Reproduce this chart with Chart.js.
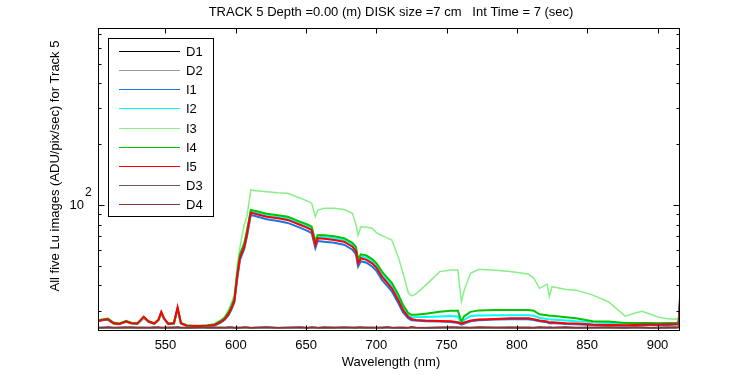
<!DOCTYPE html>
<html>
<head>
<meta charset="utf-8">
<script src="https://cdn.jsdelivr.net/npm/chart.js@4"></script>
<style>
  html, body { margin: 0; padding: 0; background: #fff; }
  canvas { display: block; }
</style>
</head>
<body>
<canvas id="chart" width="750" height="375"></canvas>
<script>
// wavelength grid (nm), shared by every trace
const wavelengths = [502, 505, 509, 513, 517, 522, 526, 530, 534.5, 538, 542, 545, 547, 549, 552, 556, 558.6, 561, 565, 570,
    575, 580, 585, 589, 592, 595, 597, 599, 601, 603, 606, 608, 610.7, 615, 622, 630, 637, 646, 651, 654,
    656.6, 658.3, 663, 670, 677, 683, 685.5, 687, 689, 693, 697, 700, 704, 708, 711, 715.5, 719, 722.6, 725, 728,
    735, 745, 753, 758, 760.5, 762.5, 767, 773, 785, 795, 808, 812, 816, 821.5, 823, 825, 835, 842, 854, 865,
    877, 884, 889, 895, 901, 907, 913, 915, 916];

const d1Values = [24.7, 24.8, 24.7, 24.7, 24.8, 24.7, 24.7, 24.8, 24.7, 24.7, 24.8, 24.7, 24.7, 24.8, 24.7, 24.7, 24.8, 24.7, 24.7, 24.8,
    24.7, 24.7, 24.8, 24.7, 24.7, 24.8, 24.7, 24.7, 24.8, 24.7, 24.7, 24.8, 24.7, 24.7, 24.8, 24.7, 24.7, 24.8, 24.7, 24.7,
    24.8, 24.7, 24.7, 24.8, 24.7, 24.7, 24.8, 24.7, 24.7, 24.8, 24.7, 24.7, 24.8, 24.7, 24.7, 24.8, 24.7, 24.7, 24.8, 24.7,
    24.7, 24.8, 24.7, 24.7, 24.8, 24.7, 24.7, 24.8, 24.7, 24.7, 24.8, 24.7, 24.7, 24.8, 24.7, 24.7, 24.8, 24.7, 24.7, 24.8,
    24.7, 24.7, 24.8, 24.7, 24.7, 24.8, 24.7, 24.8, 33];
const d2Values = [24.8, 24.7, 24.8, 24.8, 24.7, 24.8, 24.8, 24.7, 24.8, 24.8, 24.7, 24.8, 24.8, 24.7, 24.8, 24.8, 24.7, 24.8, 24.8, 24.7,
    24.8, 24.8, 24.7, 24.8, 24.8, 24.7, 24.8, 24.8, 24.7, 24.8, 24.8, 24.7, 24.8, 24.8, 24.7, 24.8, 24.8, 24.7, 24.8, 24.8,
    24.7, 24.8, 24.8, 24.7, 24.8, 24.8, 24.7, 24.8, 24.8, 24.7, 24.8, 24.8, 24.7, 24.8, 24.8, 24.7, 24.8, 24.8, 24.7, 24.8,
    24.8, 24.7, 24.8, 24.8, 24.7, 24.8, 24.8, 24.7, 24.8, 24.8, 24.7, 24.8, 24.8, 24.7, 24.8, 24.8, 24.7, 24.8, 24.8, 24.7,
    24.8, 24.8, 24.7, 24.8, 24.8, 24.7, 24.8, 24.8, 33];
const i1Values = [26.6, 26.9, 27.1, 25.9, 25.7, 26.4, 25.9, 25.8, 27.7, 26.4, 25.8, 26.9, 29.2, 27.3, 25.7, 25.9, 30.6, 25.9, 25.2, 25.1,
    25.1, 25.2, 25.3, 26.1, 27.0, 28.6, 30.5, 33, 43, 53.5, 60.5, 70, 89.5, 87.6, 85, 83.3, 81.5, 77, 74.5, 72.6,
    61.2, 66.3, 65.8, 65, 63.6, 60.1, 57, 49.6, 52.7, 51.8, 49.6, 47.3, 42.6, 39.6, 37.4, 32.8, 29.4, 27.5, 26.9, 26.8,
    26.6, 26.5, 26.4, 26.1, 25.6, 25.9, 26.6, 26.9, 27.1, 27.2, 27.2, 27.0, 26.6, 26.3, 26.0, 26.1, 25.8, 25.7, 25.5, 25.4,
    25.3, 25.4, 25.4, 25.5, 25.5, 25.5, 25.6, 25.6, 33];
const i2Values = [26.8, 27.0, 27.3, 26.1, 25.8, 26.6, 26.0, 25.9, 27.6, 26.5, 25.9, 27.0, 29.0, 27.3, 25.8, 26.0, 30.5, 26.0, 25.3, 25.2,
    25.2, 25.3, 25.5, 26.4, 27.3, 29.2, 31.3, 34, 45, 56, 63, 73, 92.5, 91.2, 88.7, 87.3, 85.7, 81, 78.4, 76.4,
    64.5, 69.6, 69.3, 68.5, 67, 63.5, 60.3, 52.5, 55.6, 54.8, 52.6, 50.2, 45.5, 42.3, 40, 35, 31, 28.6, 27.9, 27.8,
    27.9, 28.1, 28.2, 28.1, 25.9, 27, 28.2, 28.4, 28.5, 28.5, 28.5, 28.3, 27.6, 27.3, 27.1, 27.1, 26.8, 26.6, 26.4, 26.1,
    25.9, 25.9, 25.9, 25.9, 25.9, 25.9, 26.0, 26.0, 33];
const i3Values = [26.8, 27.1, 27.3, 26.1, 25.9, 26.6, 26.1, 26.0, 27.7, 26.6, 26.0, 27.0, 29.1, 27.4, 25.9, 26.1, 30.4, 26.1, 25.4, 25.3,
    25.3, 25.4, 25.8, 26.9, 28.0, 30.5, 33, 36, 50, 62, 80, 88, 118.7, 117.5, 116.3, 115, 114.3, 107.9, 104.5, 102,
    87.5, 94, 96.3, 96.3, 95, 91, 80, 71, 78, 77.5, 76.7, 73, 70.5, 68.5, 67.1, 55.5, 45.9, 37, 35.5, 36.2,
    40, 46.8, 47.7, 47.7, 33.2, 37.9, 45.9, 48.1, 47.5, 46.8, 45.5, 43.5, 38.7, 40.6, 35.2, 39.4, 38.2, 37.9, 35.8, 33.2,
    28.2, 29.2, 29.8, 28.8, 27.8, 27.4, 27.2, 27.5, 34.7];
const i4Values = [26.9, 27.1, 27.4, 26.2, 25.9, 26.7, 26.1, 26.0, 27.8, 26.6, 26.0, 27.1, 29.3, 27.4, 25.9, 26.1, 30.8, 26.1, 25.4, 25.3,
    25.3, 25.4, 25.7, 26.6, 27.6, 29.6, 31.8, 34.5, 46, 57, 64.5, 75, 94.5, 93, 90.5, 89, 87.5, 82.5, 80, 78,
    66, 71, 70.8, 70, 68.5, 65, 62, 54, 57, 56.2, 54, 51.5, 46.8, 43.5, 41.2, 36.2, 32, 29.3, 28.6, 28.6,
    29.0, 29.6, 30.0, 30.0, 26.4, 28.2, 29.6, 30.1, 30.2, 30.2, 30.2, 30.0, 28.8, 28.5, 28.3, 28.3, 27.8, 27.5, 26.6, 26.5,
    26.1, 26.1, 26.1, 26.1, 26.0, 26.1, 26.1, 26.2, 35];
const i5Values = [26.7, 27.0, 27.2, 26.0, 25.8, 26.5, 26.0, 25.9, 28.0, 26.5, 25.9, 27.0, 29.6, 27.5, 25.8, 26.0, 31.2, 26.0, 25.3, 25.2,
    25.2, 25.3, 25.5, 26.3, 27.2, 29.0, 31.0, 33.5, 44, 55, 62, 72, 91.6, 90, 87.5, 86, 84.3, 79.6, 77, 75,
    63.4, 68.4, 68, 67.1, 65.8, 62.2, 59, 51.4, 54.5, 53.5, 51.4, 49, 44.2, 41, 38.7, 33.9, 30.2, 28.0, 27.3, 27.0,
    26.8, 26.7, 26.6, 26.3, 25.9, 26.2, 26.8, 27.1, 27.3, 27.5, 27.5, 27.2, 26.8, 26.5, 26.2, 26.3, 26.0, 25.9, 25.6, 25.5,
    25.4, 25.5, 25.6, 25.6, 25.6, 25.7, 25.7, 25.8, 34];
const d3Values = [24.7, 24.8, 24.8, 24.7, 24.8, 24.9, 24.7, 24.8, 24.8, 24.7, 24.9, 24.8, 24.7, 24.8, 24.8, 24.9, 24.7, 24.8, 24.8, 24.7,
    24.8, 24.9, 24.7, 24.8, 24.8, 24.7, 24.9, 24.8, 24.7, 24.8, 24.8, 24.9, 24.7, 24.8, 24.8, 24.7, 24.8, 24.9, 24.7, 24.8,
    24.8, 24.7, 24.9, 24.8, 24.7, 24.8, 24.8, 24.9, 24.7, 24.8, 24.8, 24.7, 24.8, 24.9, 24.7, 24.8, 24.8, 24.7, 24.9, 24.8,
    24.7, 24.8, 24.8, 24.9, 24.7, 24.8, 24.8, 24.7, 24.8, 24.9, 24.7, 24.8, 24.8, 24.7, 24.9, 24.8, 24.7, 24.8, 24.8, 24.9,
    24.7, 24.8, 24.8, 24.7, 24.8, 24.9, 24.7, 24.8, 33.2];
const d4Values = [24.8, 24.7, 24.9, 24.8, 24.7, 24.8, 24.9, 24.7, 24.8, 24.8, 24.7, 24.9, 24.8, 24.7, 24.8, 24.7, 24.9, 24.8, 24.7, 24.8,
    24.9, 24.7, 24.8, 24.8, 24.7, 24.9, 24.8, 24.7, 24.8, 24.7, 24.9, 24.8, 24.7, 24.8, 24.9, 24.7, 24.8, 24.8, 24.7, 24.9,
    24.8, 24.7, 24.8, 24.7, 24.9, 24.8, 24.7, 24.8, 24.9, 24.7, 24.8, 24.8, 24.7, 24.9, 24.8, 24.7, 24.8, 24.7, 24.9, 24.8,
    24.7, 24.8, 24.9, 24.7, 24.8, 24.8, 24.7, 24.9, 24.8, 24.7, 24.8, 24.7, 24.9, 24.8, 24.7, 24.8, 24.9, 24.7, 24.8, 24.8,
    24.7, 24.9, 24.8, 24.7, 24.8, 24.7, 24.9, 24.8, 33.2];

const seriesLabels = ['D1', 'D2', 'I1', 'I2', 'I3', 'I4', 'I5', 'D3', 'D4'];
const seriesValues = [d1Values, d2Values, i1Values, i2Values, i3Values, i4Values, i5Values, d3Values, d4Values];
const seriesColors = ['#000000', '#9a9a9a', '#1a73e0', '#00ffff', '#88f088', '#00c400', '#ff0000', '#7f5555', '#883535'];
const seriesWidths = [1.5, 1.5, 2, 2, 1.5, 2, 2, 1.5, 1.5];

const xTicks = [550, 600, 650, 700, 750, 800, 850, 900];
const yMajorTicks = [100];
const yMinorTicks = [30, 40, 50, 60, 70, 80, 90, 200, 300, 400, 500, 600, 700];

const chartTitle = 'TRACK 5 Depth =0.00 (m) DISK size =7 cm   Int Time = 7 (sec)';
const xTitle = 'Wavelength (nm)';
const yTitle = 'All five Lu images (ADU/pix/sec) for Track 5';

const FONT = '13px "Liberation Sans", Arial, sans-serif';

const datasets = seriesLabels.map((label, k) => ({
    label: label,
    data: wavelengths.map((w, i) => ({ x: w, y: seriesValues[k][i] })),
    borderColor: seriesColors[k],
    backgroundColor: seriesColors[k],
    borderWidth: seriesWidths[k],
    pointRadius: 0,
    tension: 0,
    fill: false,
    order: seriesLabels.length - k // later series drawn on top
}));

// frame, ticks, labels, titles and legend in the old plot style
const framePlugin = {
    id: 'frame',
    afterDraw(chart) {
        const ctx = chart.ctx;
        const area = chart.chartArea;
        const xs = chart.scales.x;
        const ys = chart.scales.y;
        const L = Math.round(area.left) + 0.5;
        const R = Math.round(area.right) - 0.5;
        const T = Math.round(area.top) + 0.5;
        const B = Math.round(area.bottom) - 0.5;

        ctx.save();
        ctx.strokeStyle = '#000';
        ctx.lineWidth = 1;
        ctx.strokeRect(L, T, R - L, B - T);

        ctx.beginPath();
        xTicks.forEach(v => {
            const px = Math.round(xs.getPixelForValue(v)) + 0.5;
            ctx.moveTo(px, B); ctx.lineTo(px, B - 5);
            ctx.moveTo(px, T); ctx.lineTo(px, T + 5);
        });
        yMajorTicks.forEach(v => {
            const py = Math.round(ys.getPixelForValue(v)) + 0.5;
            ctx.moveTo(L, py); ctx.lineTo(L + 6, py);
            ctx.moveTo(R, py); ctx.lineTo(R - 6, py);
        });
        yMinorTicks.forEach(v => {
            const py = Math.round(ys.getPixelForValue(v)) + 0.5;
            ctx.moveTo(L, py); ctx.lineTo(L + 3, py);
            ctx.moveTo(R, py); ctx.lineTo(R - 3, py);
        });
        ctx.stroke();

        ctx.fillStyle = '#000';
        ctx.font = FONT;
        ctx.textAlign = 'center';
        ctx.textBaseline = 'middle';
        xTicks.forEach(v => {
            ctx.fillText(String(v), xs.getPixelForValue(v), area.bottom + 14);
        });

        // 10^2 label
        const y100 = ys.getPixelForValue(100);
        ctx.textAlign = 'right';
        ctx.fillText('10', area.left - 14, y100);
        ctx.textAlign = 'left';
        ctx.font = '12px "Liberation Sans", Arial, sans-serif';
        ctx.fillText('2', area.left - 13, y100 - 12);

        ctx.font = FONT;
        ctx.textAlign = 'center';
        ctx.fillText(chartTitle, 391, 12);
        ctx.fillText(xTitle, 391, 362);

        ctx.save();
        ctx.translate(55, 166);
        ctx.rotate(-Math.PI / 2);
        ctx.fillText(yTitle, 0, 0);
        ctx.restore();

        // legend box
        const lx = 108.5, ly = 38.5, lw = 105, lh = 178;
        ctx.fillStyle = '#fff';
        ctx.fillRect(lx, ly, lw, lh);
        ctx.strokeStyle = '#000';
        ctx.strokeRect(lx, ly, lw, lh);
        ctx.textAlign = 'left';
        seriesLabels.forEach((label, k) => {
            const ry = Math.round(50.7 + k * 19.2) + 0.5;
            ctx.strokeStyle = seriesColors[k];
            ctx.lineWidth = 1;
            ctx.beginPath();
            ctx.moveTo(119, ry);
            ctx.lineTo(180, ry);
            ctx.stroke();
            ctx.fillStyle = '#000';
            ctx.fillText(label, 186, ry + 0.5);
        });
        ctx.restore();
    }
};

new Chart(document.getElementById('chart'), {
    type: 'line',
    data: { datasets: datasets },
    options: {
        responsive: false,
        animation: false,
        devicePixelRatio: 1,
        layout: { padding: { left: 98, right: 70, top: 28, bottom: 44 } },
        plugins: {
            legend: { display: false },
            tooltip: { enabled: false },
            title: { display: false }
        },
        scales: {
            x: { type: 'linear', min: 502, max: 916, display: false },
            y: { type: 'logarithmic', min: 23.8, max: 750, display: false }
        }
    },
    plugins: [framePlugin]
});
</script>
</body>
</html>
